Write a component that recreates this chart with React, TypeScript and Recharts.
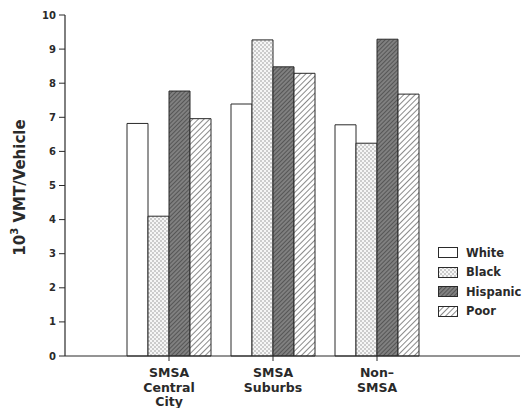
import { Bar, BarChart, XAxis, YAxis } from 'recharts';

const areas = ['SMSA Central City', 'SMSA Suburbs', 'Non– SMSA'];
const areaLines = [['SMSA', 'Central', 'City'], ['SMSA', 'Suburbs'], ['Non–', 'SMSA']];
const white = [6.82, 7.39, 6.78];
const black = [4.1, 9.27, 6.24];
const hispanic = [7.77, 8.48, 9.29];
const poor = [6.96, 8.29, 7.68];
const yTicks = [0, 1, 2, 3, 4, 5, 6, 7, 8, 9, 10];

const data = areas.map((area, i) => ({
  area,
  lines: areaLines[i],
  White: white[i],
  Black: black[i],
  Hispanic: hispanic[i],
  Poor: poor[i],
}));

const series = [
  { key: 'White', fill: '#ffffff' },
  { key: 'Black', fill: 'url(#dots)' },
  { key: 'Hispanic', fill: 'url(#darkHatch)' },
  { key: 'Poor', fill: 'url(#hatch)' },
];

const INK = '#2a2a2a';
const FONT = '"DejaVu Sans", sans-serif';

function Patterns() {
  return (
    <defs>
      <pattern id="dots" width="4" height="4" patternUnits="userSpaceOnUse">
        <rect width="4" height="4" fill="#f6f6f6" />
        <circle cx="1" cy="1" r="0.75" fill="#8f8f8f" />
        <circle cx="3" cy="3" r="0.75" fill="#8f8f8f" />
      </pattern>
      <pattern id="darkHatch" width="3" height="3" patternUnits="userSpaceOnUse" patternTransform="rotate(45)">
        <rect width="3" height="3" fill="#808080" />
        <line x1="0" y1="0" x2="0" y2="3" stroke="#3a3a3a" strokeWidth="1.2" />
      </pattern>
      <pattern id="hatch" width="4" height="4" patternUnits="userSpaceOnUse" patternTransform="rotate(45)">
        <rect width="4" height="4" fill="#ffffff" />
        <line x1="0" y1="0" x2="0" y2="4" stroke="#4a4a4a" strokeWidth="1.3" />
      </pattern>
    </defs>
  );
}

function AreaTick({ x, y, payload }: { x?: number; y?: number; payload?: { index: number } }) {
  const lines = data[payload?.index ?? 0].lines;
  return (
    <text x={x} y={(y ?? 0) + 14} textAnchor="middle" fill={INK} fontSize={12.5} fontWeight={600} fontFamily={FONT}>
      {lines.map((l, i) => (
        <tspan key={i} x={x} dy={i === 0 ? 0 : 14.5}>
          {l}
        </tspan>
      ))}
    </text>
  );
}

function YLabel({ viewBox }: { viewBox?: { x: number; y: number; height: number } }) {
  const cx = 20;
  const cy = viewBox ? viewBox.y + viewBox.height / 2 + 2 : 188;
  return (
    <text
      x={cx}
      y={cy}
      transform={`rotate(-90 ${cx} ${cy})`}
      textAnchor="middle"
      dominantBaseline="central"
      fill={INK}
      fontSize={15}
      fontWeight={600}
      fontFamily={FONT}
    >
      10
      <tspan fontSize={10} dy={-6}>3</tspan>
      <tspan dy={6}> VMT/Vehicle</tspan>
    </text>
  );
}

function LegendBox() {
  return (
    <div style={{ position: 'absolute', left: 438, top: 243, fontFamily: FONT, fontSize: 11.5, fontWeight: 600, color: INK }}>
      {series.map((s) => (
        <div key={s.key} style={{ display: 'flex', alignItems: 'center', height: 19.5, whiteSpace: 'nowrap' }}>
          <svg width={20} height={11} style={{ marginRight: 8 }}>
            <rect x={0.5} y={0.5} width={19} height={10} fill={s.fill} stroke={INK} strokeWidth={1} />
          </svg>
          <span>{s.key}</span>
        </div>
      ))}
    </div>
  );
}

export default function App() {
  return (
    <div style={{ position: 'fixed', left: 0, top: 0, width: 524, height: 408, background: '#fff', overflow: 'hidden' }}>
      <BarChart
        width={524}
        height={408}
        data={data}
        margin={{ top: 15, right: 4, bottom: 22, left: 20 }}
        barCategoryGap={10}
        barGap={0}
      >
        <Patterns />
        <XAxis
          dataKey="area"
          interval={0}
          padding={{ left: 52, right: 91 }}
          tick={<AreaTick />}
          tickLine={{ stroke: INK }}
          tickSize={5}
          axisLine={{ stroke: INK, strokeWidth: 1.2 }}
        />
        <YAxis
          width={45}
          domain={[0, 10]}
          ticks={yTicks}
          interval={0}
          tickSize={6}
          tickMargin={3}
          tick={{ fill: INK, fontSize: 10, fontWeight: 700, fontFamily: FONT }}
          tickLine={{ stroke: INK }}
          axisLine={{ stroke: INK, strokeWidth: 1.2 }}
          label={<YLabel />}
        />
        {series.map((s) => (
          <Bar
            key={s.key}
            dataKey={s.key}
            fill={s.fill}
            stroke={INK}
            strokeWidth={1}
            barSize={21}
            isAnimationActive={false}
          />
        ))}
      </BarChart>
      <LegendBox />
    </div>
  );
}
